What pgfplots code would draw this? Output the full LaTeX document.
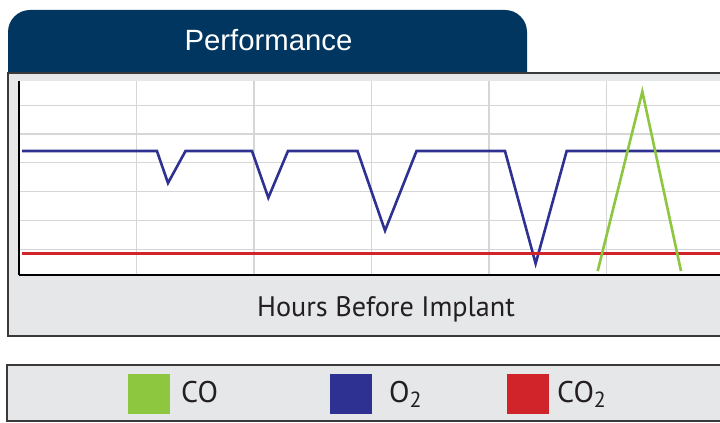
\documentclass[border=0pt]{standalone}
\usepackage{pgfplots}
\pgfplotsset{compat=1.18}
\usepackage{fontspec}
\setmainfont{PT Sans}
\newfontfamily\titlefont{Liberation Sans}
\definecolor{tabblue}{HTML}{00365F}
\definecolor{panelgray}{HTML}{E6E7E8}
\definecolor{bordergray}{HTML}{3A3A3A}
\definecolor{gridgray}{HTML}{D6D6D6}
\definecolor{otwo}{HTML}{2E3192}
\definecolor{cotwo}{HTML}{D1232A}
\definecolor{cogreen}{HTML}{8DC63F}
\definecolor{txt}{HTML}{231F20}
\begin{document}
\begin{tikzpicture}[x=1bp,y=1bp]
\useasboundingbox (0,0) rectangle (720,422);
\fill[white] (0,0) rectangle (720,422);
\begin{scope}[yscale=-1, yshift=-422bp]
% tab
\fill[tabblue] (8,74) [rounded corners=22bp]-- (8,10) -- (527,10) [sharp corners]-- (527,74) -- cycle;
% main panel
\fill[panelgray] (8,73) rectangle (730,336);
\draw[bordergray, line width=1.5bp] (730,73) -- (8,73) -- (8,336) -- (730,336);
% legend box
\fill[panelgray] (7,365) rectangle (730,421);
\draw[bordergray, line width=1.5bp] (730,365) -- (7,365) -- (7,421) -- (730,421);
\fill[cogreen] (128,374) rectangle (170,414);
\fill[otwo] (330,374) rectangle (372,414);
\fill[cotwo] (507,374) rectangle (549,414);
\end{scope}
% texts (y measured from top: 422 - y)
\node[anchor=base, text=white, font=\titlefont\fontsize{29.4}{29.4}\selectfont, inner sep=0pt] at (268.5,422-50) {Performance};
\node[anchor=base, text=txt, font=\fontsize{28.3}{28.3}\selectfont, inner sep=0pt] at (386,422-316.5) {Hours Before Implant};
\node[anchor=base west, text=txt, font=\fontsize{30}{30}\selectfont, inner sep=0pt] at (181,422-402) {CO};
\node[anchor=base west, text=txt, font=\fontsize{30}{30}\selectfont, inner sep=0pt] at (389,422-402) {O\raisebox{-5bp}{\fontsize{22}{22}\selectfont 2}};
\node[anchor=base west, text=txt, font=\fontsize{30}{30}\selectfont, inner sep=0pt] at (557,422-402) {CO\raisebox{-5bp}{\fontsize{22}{22}\selectfont 2}};
% plot
\begin{axis}[
  at={(19bp,147bp)}, anchor=south west,
  scale only axis, width=701bp, height=194bp,
  xmin=0, xmax=5.966, ymin=0.11, ymax=6.84,
  xtick={1,2,3,4,5}, ytick={1,2,3,4,5,6},
  xticklabels={}, yticklabels={},
  major tick length=0pt,
  grid=major,
  grid style={color=gridgray, line width=1.2bp},
  axis x line*=bottom, axis y line*=left,
  axis line style={line width=2.8bp, black, -},
  axis background/.style={fill=white},
  clip=true,
]
\addplot[color=otwo, line width=2.6bp, line join=miter] coordinates {
  (0.026,4.41) (1.174,4.41) (1.268,3.30) (1.417,4.41)
  (1.983,4.41) (2.122,2.79) (2.289,4.41)
  (2.881,4.41) (3.115,1.65) (3.383,4.41)
  (4.136,4.41) (4.397,0.507) (4.661,4.41)
  (5.966,4.41)
};
\addplot[color=cotwo, line width=2.6bp] coordinates {
  (0.026,0.854) (5.966,0.854)
};
\addplot[color=cogreen, line width=2.6bp, line join=miter] coordinates {
  (4.925,0.247) (5.305,6.47) (5.634,0.247)
};
\end{axis}
\end{tikzpicture}
\end{document}
